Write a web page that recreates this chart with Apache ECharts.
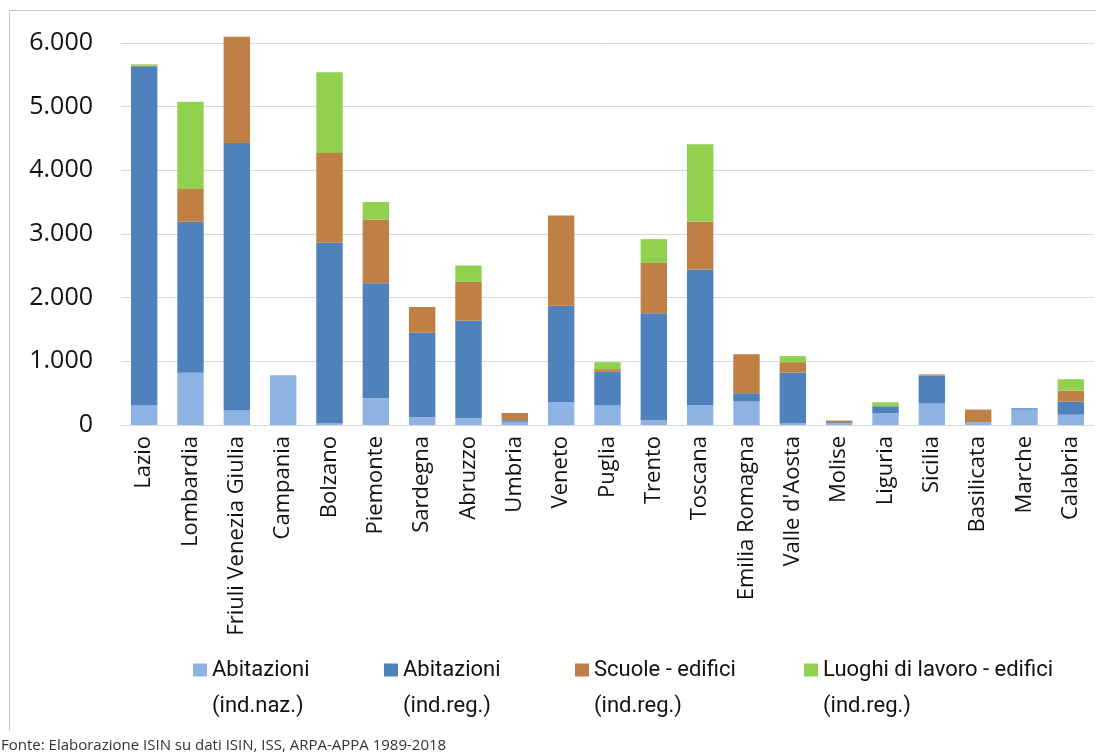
<!DOCTYPE html>
<html>
<head>
<meta charset="utf-8">
<script src="https://cdn.jsdelivr.net/npm/echarts@6/dist/echarts.min.js"></script>
<style>
  html, body { margin: 0; padding: 0; background: #ffffff; }
  #chart { width: 1096px; height: 755px; }
</style>
</head>
<body>
<div id="chart"></div>
<script>
// Regioni, in ordine di visualizzazione
const categories = ['Lazio', 'Lombardia', 'Friuli Venezia Giulia', 'Campania', 'Bolzano', 'Piemonte',
  'Sardegna', 'Abruzzo', 'Umbria', 'Veneto', 'Puglia', 'Trento', 'Toscana', 'Emilia Romagna',
  "Valle d'Aosta", 'Molise', 'Liguria', 'Sicilia', 'Basilicata', 'Marche', 'Calabria'];

// Numero di misure per tipologia
const abitazioniNaz = [305, 819, 227, 783, 32, 420, 121, 106, 50, 362, 306, 79, 310, 368, 22, 30, 184, 337, 47, 242, 162];
const abitazioniReg = [5330, 2373, 4204, 0, 2829, 1807, 1328, 1532, 25, 1512, 529, 1675, 2131, 131, 803, 15, 110, 441, 0, 21, 205];
const scuoleReg = [10, 515, 1669, 0, 1413, 997, 405, 609, 114, 1417, 42, 792, 756, 614, 162, 25, 0, 16, 195, 0, 173];
const lavoroReg = [20, 1370, 0, 0, 1265, 278, 0, 257, 0, 0, 110, 373, 1212, 0, 95, 0, 63, 0, 0, 0, 179];

const seriesNames = ['Abitazioni (ind.naz.)', 'Abitazioni (ind.reg.)', 'Scuole - edifici (ind.reg.)', 'Luoghi di lavoro - edifici (ind.reg.)'];
const seriesColors = ['#8db3e2', '#4f81bd', '#c07f45', '#92d050'];
const seriesData = [abitazioniNaz, abitazioniReg, scuoleReg, lavoroReg];

const yTicks = [0, 1000, 2000, 3000, 4000, 5000, 6000];
const sourceNote = 'Fonte: Elaborazione ISIN su dati ISIN, ISS, ARPA-APPA 1989-2018';

const axisFont = "'Open Sans', 'Noto Sans', sans-serif";
const legendFont = "Roboto, 'Open Sans', sans-serif";

function fmtThousands(v) {
  return String(v).replace(/\B(?=(\d{3})+(?!\d))/g, '.');
}

const legendLefts = [193, 384, 575, 804];
const legendLine = 36;
const legendIconY = 670;

const chart = echarts.init(document.getElementById('chart'), null, { renderer: 'canvas' });

chart.setOption({
  backgroundColor: '#ffffff',
  animation: false,
  grid: { left: 121, right: 2, top: 43, bottom: 330, containLabel: false },
  legend: seriesNames.map((name, i) => ({
    data: [name],
    left: legendLefts[i],
    top: legendIconY - legendLine * 1.5,
    padding: 0,
    itemWidth: 14,
    itemHeight: 13,
    icon: 'rect',
    selectedMode: false,
    // leading empty line keeps the marker level with the first text line
    formatter: n => '\n' + n.replace(' (', '\n('),
    textStyle: {
      fontFamily: legendFont,
      fontSize: 22,
      color: '#111',
      lineHeight: legendLine
    }
  })),
  xAxis: {
    type: 'category',
    data: categories,
    axisLine: { show: true, lineStyle: { color: '#d9d9d9', width: 1 } },
    axisTick: { show: false },
    axisLabel: {
      rotate: 90,
      interval: 0,
      margin: 11,
      fontFamily: axisFont,
      fontSize: 22,
      color: '#111'
    }
  },
  yAxis: {
    type: 'value',
    min: yTicks[0],
    max: yTicks[yTicks.length - 1],
    interval: 1000,
    axisLine: { show: false },
    axisTick: { show: false },
    splitLine: { lineStyle: { color: '#d9d9d9', width: 1 } },
    axisLabel: {
      margin: 28,
      fontFamily: axisFont,
      fontSize: 25,
      color: '#111',
      formatter: v => fmtThousands(v)
    }
  },
  series: seriesNames.map((name, i) => ({
    name: name,
    type: 'bar',
    stack: 'misure',
    data: seriesData[i],
    barWidth: '57%',
    clip: false,
    itemStyle: { color: seriesColors[i] },
    emphasis: { disabled: true }
  })),
  graphic: [
    { type: 'line', shape: { x1: 9.5, y1: 10.5, x2: 1096, y2: 10.5 }, style: { stroke: '#c8c8c8', lineWidth: 1 } },
    { type: 'line', shape: { x1: 9.5, y1: 10.5, x2: 9.5, y2: 731 }, style: { stroke: '#c8c8c8', lineWidth: 1 } },
    {
      type: 'text',
      left: 1,
      top: 738,
      style: { text: sourceNote, fontFamily: axisFont, fontSize: 15, fill: '#333' }
    }
  ]
});
</script>
</body>
</html>
